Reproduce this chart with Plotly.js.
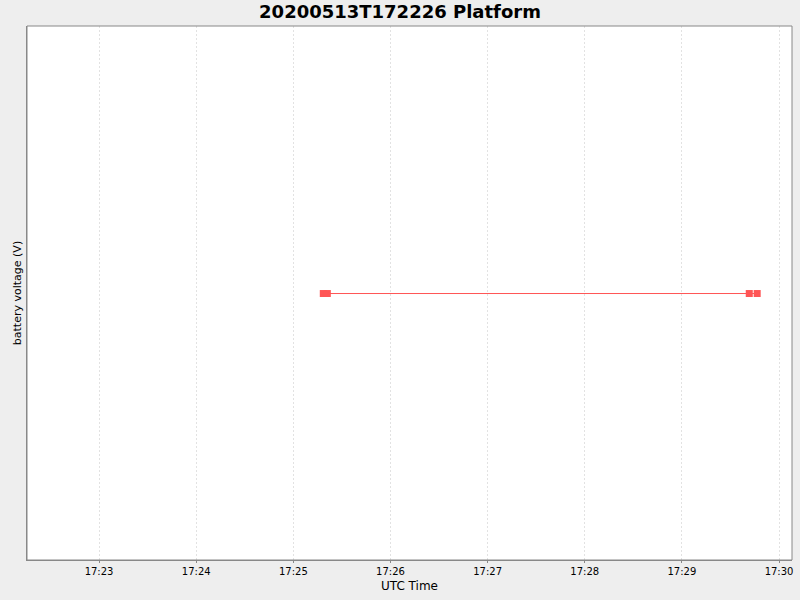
<!DOCTYPE html>
<html>
<head>
<meta charset="utf-8">
<script src="https://cdn.plot.ly/plotly-3.0.1.min.js"></script>
<style>
  body { margin: 0; background: #eeeeee; }
  #chart { width: 800px; height: 600px; }
</style>
</head>
<body>
<div id="chart"></div>
<script>
// sample times (UTC) and battery voltage readings
const times = [
    '2020-05-13 17:25:18.5',
    '2020-05-13 17:25:21',
    '2020-05-13 17:29:41.6',
    '2020-05-13 17:29:46.5'
];
const voltage = [12.5, 12.5, 12.5, 12.5];
const xRange = ['2020-05-13 17:22:15.5', '2020-05-13 17:30:08'];
const yRange = [12.001, 13.001];

const trace = {
    x: times,
    y: voltage,
    type: 'scatter',
    mode: 'lines+markers',
    line: { color: '#ff5555', width: 1 },
    marker: { symbol: 'square', size: 7, color: '#ff5555' },
    showlegend: false
};

const layout = {
    width: 800,
    height: 600,
    paper_bgcolor: '#eeeeee',
    plot_bgcolor: '#ffffff',
    font: { family: 'DejaVu Sans', color: '#000000' },
    margin: { l: 27, r: 8, t: 26, b: 40, pad: 0 },
    title: {
        text: '<b>20200513T172226 Platform</b>',
        font: { family: 'DejaVu Sans', size: 18, color: '#000000' },
        x: 0.5,
        xanchor: 'center',
        y: 0.98,
        yanchor: 'middle'
    },
    xaxis: {
        type: 'date',
        range: xRange,
        tickformat: '%H:%M',
        dtick: 60000,
        tick0: '2020-05-13 17:00:00',
        ticks: 'outside',
        ticklen: 2,
        tickcolor: '#888888',
        tickfont: { size: 10 },
        showgrid: true,
        gridcolor: '#e2e2e2',
        griddash: '2px,2px',
        gridwidth: 1,
        zeroline: false,
        showline: true,
        linecolor: '#888888',
        linewidth: 1,
        mirror: false,
        title: { text: 'UTC Time', font: { size: 12 }, standoff: 5 }
    },
    yaxis: {
        range: yRange,
        showticklabels: false,
        ticks: '',
        showgrid: false,
        zeroline: false,
        showline: true,
        linecolor: '#888888',
        linewidth: 1,
        title: { text: 'battery voltage (V)', font: { size: 11 }, standoff: 2 }
    },
    shapes: [{
        type: 'rect', xref: 'paper', yref: 'paper',
        x0: 0, x1: 1, y0: 0, y1: 1,
        line: { color: '#888888', width: 1 }
    }]
};

Plotly.newPlot('chart', [trace], layout, { displayModeBar: false, staticPlot: true });
</script>
</body>
</html>
